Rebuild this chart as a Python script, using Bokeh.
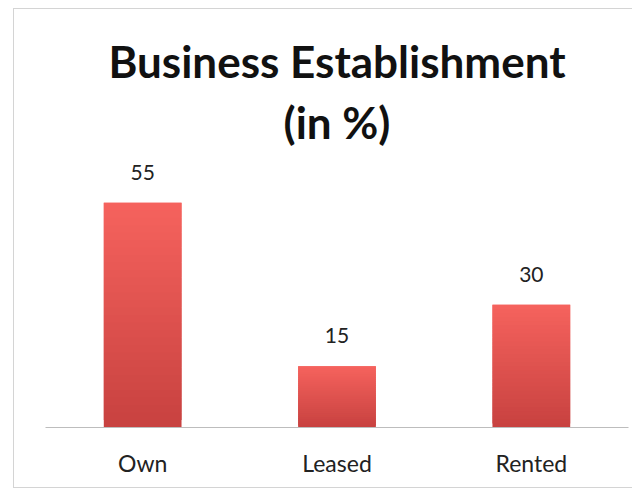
from bokeh.plotting import figure
from bokeh.models import ColumnDataSource, FactorRange, Range1d, Title
from bokeh.core.properties import value
from bokeh.embed import file_html
from bokeh.resources import INLINE

# Data
categories = ["Own", "Leased", "Rented"]
shares = [55, 15, 30]
title_lines = ["Business Establishment", "(in %)"]

FONT = "Lato"
TOP_RGB = (245, 98, 93)
BOTTOM_RGB = (200, 66, 64)
STEPS = 30


def blend(t):
    r, g, b = (int(round(BOTTOM_RGB[i] + (TOP_RGB[i] - BOTTOM_RGB[i]) * t)) for i in range(3))
    return f"#{r:02x}{g:02x}{b:02x}"


# split each bar into bands (each overlapping the next) for a vertical gradient
seg = {"x": [], "bottom": [], "top": [], "color": []}
for cat, v in zip(categories, shares):
    for i in range(STEPS):
        seg["x"].append(cat)
        seg["bottom"].append(v * i / STEPS)
        seg["top"].append(v * min(i + 2, STEPS) / STEPS)
        seg["color"].append(blend(i / (STEPS - 1)))

# the chart box runs past the right edge of the page, so only its
# left, top and bottom edges are seen
p = figure(
    x_range=FactorRange(factors=categories, range_padding=0.0),
    y_range=Range1d(0, 68),
    width=628, height=480,
    output_backend="svg", toolbar_location=None,
    min_border_left=31, min_border_right=14, min_border_top=140, min_border_bottom=62,
    margin=(8, 0, 0, 13),
    styles={"border-left": "1px solid #d4d4d4", "border-top": "1px solid #d4d4d4",
            "border-bottom": "1px solid #d4d4d4"},
)

for line, gap in zip(reversed(title_lines), [3, 12]):
    p.add_layout(Title(text=line, align="center", text_font=FONT, text_font_size="44px",
                       text_font_style="bold", text_color="#111111", standoff=gap, offset=0), "above")

p.vbar(x="x", bottom="bottom", top="top", width=0.4, color="color", line_color=None,
       source=ColumnDataSource(seg))

p.text(x=categories, y=shares, text=[str(v) for v in shares], text_align="center",
       text_baseline="bottom", y_offset=-23, text_font=value(FONT), text_font_size="21px",
       text_color="#222222")

p.yaxis.visible = False
p.xaxis.axis_line_color = "#bdbdbd"
p.xaxis.major_tick_line_color = None
p.xaxis.minor_tick_line_color = None
p.xaxis.major_label_text_font = FONT
p.xaxis.major_label_text_font_size = "23px"
p.xaxis.major_label_text_color = "#222222"
p.xaxis.major_label_standoff = 15
p.xgrid.grid_line_color = None
p.ygrid.grid_line_color = None
p.outline_line_color = None
p.background_fill_color = "white"
p.border_fill_color = "white"

open("out.html", "w").write(file_html(p, INLINE))
